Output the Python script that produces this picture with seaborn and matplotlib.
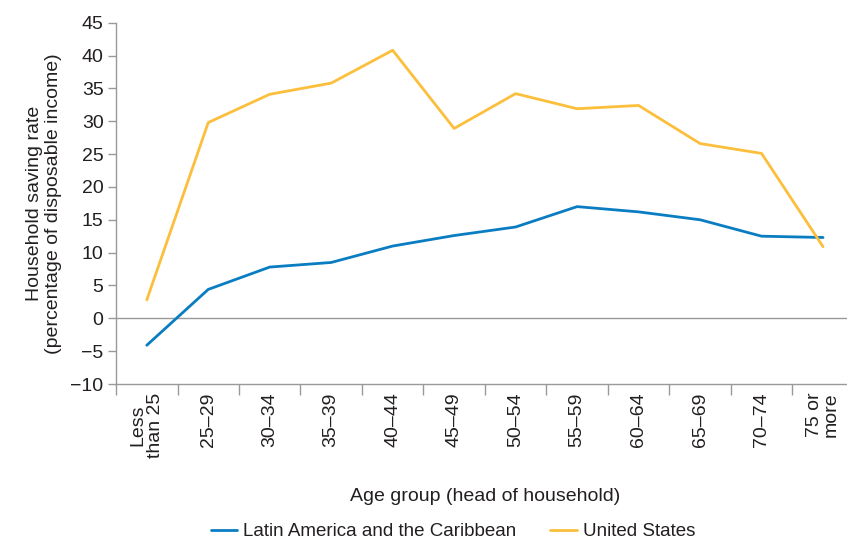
import numpy as np
import pandas as pd
import matplotlib.pyplot as plt
import seaborn as sns
from matplotlib.ticker import FixedLocator

AGE_GROUPS = ["Less\nthan 25", "25–29", "30–34", "35–39", "40–44", "45–49",
              "50–54", "55–59", "60–64", "65–69", "70–74", "75 or\nmore"]
LAC = [-4.1, 4.4, 7.8, 8.5, 11.0, 12.6, 13.9, 17.0, 16.2, 15.0, 12.5, 12.3]
US = [2.8, 29.8, 34.1, 35.8, 40.8, 28.9, 34.2, 31.9, 32.4, 26.6, 25.1, 10.9]
SERIES = ["Latin America and the Caribbean", "United States"]
COLORS = {"Latin America and the Caribbean": "#0a7dc2", "United States": "#fbbf3c"}
Y_TICKS = list(range(-10, 50, 5))

sns.set_style("white")
plt.rcParams["font.family"] = ["Liberation Sans Narrow", "Liberation Sans", "DejaVu Sans"]

df = pd.DataFrame({
    "pos": list(range(len(AGE_GROUPS))) * 2,
    "rate": LAC + US,
    "series": [SERIES[0]] * len(LAC) + [SERIES[1]] * len(US),
})

fig = plt.figure(figsize=(8.47, 5.45), dpi=100)
ax = fig.add_axes([0.137, 0.2954, 0.871, 0.6630])

sns.lineplot(data=df, x="pos", y="rate", hue="series", palette=COLORS,
             linewidth=2.0, ax=ax, legend=False)
ax.axhline(0, color="#999999", linewidth=1.0, zorder=0)

ax.set_xlim(-0.5, len(AGE_GROUPS) - 0.5)
ax.set_ylim(-10, 45)
ax.set_yticks(Y_TICKS)
ax.set_yticklabels([f"{t}".replace("-", "−") for t in Y_TICKS], fontsize=14, color="#231f20")

ax.set_xticks(range(len(AGE_GROUPS)))
ax.set_xticklabels(AGE_GROUPS, rotation=90, fontsize=14, color="#231f20",
                   va="top", ha="center", linespacing=1.0)
ax.xaxis.set_minor_locator(FixedLocator(np.arange(-0.5, len(AGE_GROUPS) - 1, 1.0)))
ax.tick_params(axis="x", which="both", bottom=True)
ax.tick_params(axis="y", which="major", left=True)
ax.tick_params(axis="x", which="major", length=0, pad=6)
ax.tick_params(axis="x", which="minor", length=8, color="#999999", width=1.0, direction="out")
ax.tick_params(axis="y", length=6, color="#999999", width=1.0, direction="out", pad=3)

for side in ["top", "right"]:
    ax.spines[side].set_visible(False)
for side in ["left", "bottom"]:
    ax.spines[side].set_color("#999999")
    ax.spines[side].set_linewidth(1.0)

ax.set_xlabel("Age group (head of household)", fontsize=14, color="#231f20", labelpad=22)
ax.set_ylabel("Household saving rate\n(percentage of disposable income)", fontsize=14,
              color="#231f20", labelpad=6, linespacing=1.15)

handles = [plt.Line2D([], [], color=COLORS[s], linewidth=2.0) for s in SERIES]
fig.legend(handles, SERIES, loc="lower center", bbox_to_anchor=(0.535, -0.022), ncol=2,
           frameon=False, fontsize=13.5, handlelength=1.4, handletextpad=0.35,
           columnspacing=1.8, labelcolor="#231f20")

fig.savefig("out.png", dpi=100)
